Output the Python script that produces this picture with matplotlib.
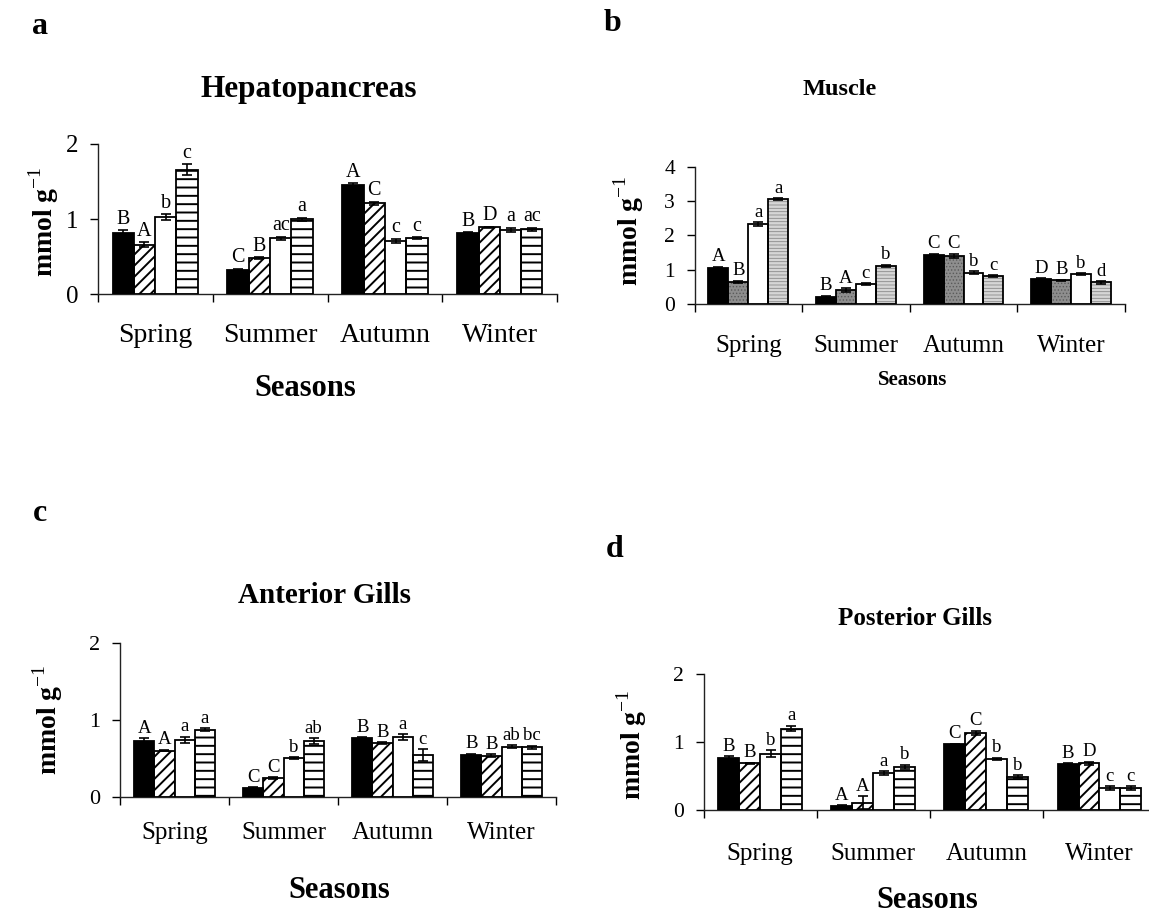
import matplotlib
matplotlib.use('Agg')
import matplotlib.pyplot as plt
import numpy as np

plt.rcParams['font.family'] = ['Liberation Serif', 'DejaVu Serif']
plt.rcParams['mathtext.fontset'] = 'custom'
plt.rcParams['mathtext.rm'] = 'Liberation Serif'
plt.rcParams['mathtext.bf'] = 'Liberation Serif:bold'
plt.rcParams['hatch.linewidth'] = 1.4

W, H = 1149, 915

seasons = ['Spring', 'Summer', 'Autumn', 'Winter']

# rows = seasons, columns = the four treatments
hep_mean = [[0.82, 0.66, 1.03, 1.66],
            [0.32, 0.48, 0.745, 1.00],
            [1.455, 1.21, 0.71, 0.75],
            [0.82, 0.89, 0.855, 0.865]]
hep_err = [[0.03, 0.03, 0.04, 0.07],
           [0.02, 0.01, 0.02, 0.02],
           [0.02, 0.02, 0.03, 0.01],
           [0.01, 0.01, 0.03, 0.02]]
hep_letters = [['B', 'A', 'b', 'c'],
               ['C', 'B', 'ac', 'a'],
               ['A', 'C', 'c', 'c'],
               ['B', 'D', 'a', 'ac']]

mus_mean = [[1.05, 0.64, 2.33, 3.05],
            [0.21, 0.40, 0.57, 1.11],
            [1.43, 1.41, 0.91, 0.82],
            [0.72, 0.69, 0.87, 0.63]]
mus_err = [[0.04, 0.04, 0.05, 0.03],
           [0.03, 0.06, 0.03, 0.04],
           [0.03, 0.06, 0.04, 0.02],
           [0.03, 0.02, 0.02, 0.04]]
mus_letters = [['A', 'B', 'a', 'a'],
               ['B', 'A', 'c', 'b'],
               ['C', 'C', 'b', 'c'],
               ['D', 'B', 'b', 'd']]

ant_mean = [[0.72, 0.60, 0.74, 0.87],
            [0.11, 0.24, 0.50, 0.72],
            [0.76, 0.70, 0.77, 0.54],
            [0.54, 0.53, 0.65, 0.64]]
ant_err = [[0.04, 0.01, 0.04, 0.02],
           [0.01, 0.01, 0.01, 0.04],
           [0.01, 0.01, 0.04, 0.08],
           [0.02, 0.02, 0.02, 0.02]]
ant_letters = [['A', 'A', 'a', 'a'],
               ['C', 'C', 'b', 'ab'],
               ['B', 'B', 'a', 'c'],
               ['B', 'B', 'ab', 'bc']]

post_mean = [[0.77, 0.69, 0.83, 1.20],
             [0.06, 0.11, 0.54, 0.64],
             [0.97, 1.14, 0.75, 0.49],
             [0.68, 0.69, 0.32, 0.32]]
post_err = [[0.02, 0.01, 0.05, 0.04],
            [0.01, 0.09, 0.03, 0.03],
            [0.01, 0.03, 0.02, 0.02],
            [0.01, 0.02, 0.03, 0.03]]
post_letters = [['B', 'B', 'b', 'a'],
                ['A', 'A', 'a', 'b'],
                ['C', 'C', 'b', 'b'],
                ['B', 'D', 'c', 'c']]

# bar fills: (facecolor, hatch, hatch colour)
STYLE_BW = [('black', None, 'black'),
            ('white', '///', 'black'),
            ('white', None, 'black'),
            ('white', '--', 'black')]
STYLE_GREY = [('black', None, 'black'),
              ('#8e8e8e', '.....', '#5a5a5a'),
              ('white', None, 'black'),
              ('#d6d6d6', '-----', '#8a8a8a')]

fig = plt.figure(figsize=(W / 100, H / 100), dpi=100)


def fx(x):
    return x / W


def fy(y):
    return 1 - y / H


def make_axes(x0, x1, ytop, y0):
    return fig.add_axes([fx(x0), fy(y0), fx(x1 - x0), (y0 - ytop) / H])


def draw_panel(ax, mean, err, letters, styles, ymax, yticks,
               ytick_fs, xtick_fs, xpad, let_fs=13.5):
    mean = np.array(mean)
    err = np.array(err)
    g = np.arange(len(seasons))
    w = 0.185
    for i in range(4):
        xs = g + (i - 1.5) * w
        fc, hatch, hc = styles[i]
        if hatch:
            hb = ax.bar(xs, mean[:, i], w, color=fc, hatch=hatch,
                        edgecolor=hc, linewidth=0, zorder=2)
            for p in hb:
                if hasattr(p, 'set_hatch_linewidth') and hc != 'black':
                    p.set_hatch_linewidth(0.6)
            ax.bar(xs, mean[:, i], w, facecolor='none', edgecolor='black',
                   linewidth=1.3, zorder=3)
        else:
            ax.bar(xs, mean[:, i], w, color=fc, edgecolor='black',
                   linewidth=1.3, zorder=3)
        ax.errorbar(xs, mean[:, i], yerr=err[:, i], fmt='none',
                    ecolor='black', elinewidth=1.2, capsize=3.5,
                    capthick=1.2, zorder=4)
        for j, x in enumerate(xs):
            ax.annotate(letters[j][i], (x, mean[j, i] + err[j, i]),
                        xytext=(0, 1), textcoords='offset points',
                        ha='center', va='bottom', fontsize=let_fs)

    ax.set_xlim(-0.5, 3.5)
    ax.set_ylim(0, ymax)
    ax.set_yticks(yticks)
    ax.set_yticklabels([str(t) for t in yticks], fontsize=ytick_fs)
    ax.set_xticks(np.arange(-0.5, 4, 1.0))
    ax.set_xticklabels([])
    ax.set_xticks(g, minor=True)
    ax.set_xticklabels(seasons, minor=True, fontsize=xtick_fs)
    ax.tick_params(axis='x', which='major', direction='out', length=6,
                   width=1)
    ax.tick_params(axis='x', which='minor', length=0, pad=xpad)
    ax.tick_params(axis='y', direction='out', length=6, width=1, pad=8)
    for s in ('top', 'right'):
        ax.spines[s].set_visible(False)
    for s in ('left', 'bottom'):
        ax.spines[s].set_linewidth(1)
        ax.spines[s].set_color('#222222')


ylab = r'mmol g$^{-1}$'

# a. Hepatopancreas
ax_a = make_axes(97.6, 557.4, 144.0, 294.3)
draw_panel(ax_a, hep_mean, hep_err, hep_letters, STYLE_BW, 2, [0, 1, 2],
           18, 20, 21, let_fs=14.5)
fig.text(fx(40), fy(33.5), 'a', fontsize=23, fontweight='bold',
         ha='center', va='baseline')
fig.text(fx(308.6), fy(96.7), 'Hepatopancreas', fontsize=22.5,
         fontweight='bold', ha='center', va='baseline')
fig.text(fx(44), fy(222), ylab, fontsize=20, fontweight='bold',
         rotation=90, ha='center', va='center')
fig.text(fx(305), fy(396), 'Seasons', fontsize=22, fontweight='bold',
         ha='center', va='baseline')

# b. Muscle
ax_b = make_axes(694.5, 1125, 166.7, 304.0)
draw_panel(ax_b, mus_mean, mus_err, mus_letters, STYLE_GREY, 4,
           [0, 1, 2, 3, 4], 15.5, 18, 22.5)
fig.text(fx(612), fy(31), 'b', fontsize=23, fontweight='bold',
         ha='center', va='baseline')
fig.text(fx(840), fy(95), 'Muscle', fontsize=17.5, fontweight='bold',
         ha='center', va='baseline')
fig.text(fx(629), fy(231), ylab, fontsize=20, fontweight='bold',
         rotation=90, ha='center', va='center')
fig.text(fx(913), fy(385), 'Seasons', fontsize=15, fontweight='bold',
         ha='center', va='baseline')

# c. Anterior Gills
ax_c = make_axes(120, 556, 642.7, 796.7)
draw_panel(ax_c, ant_mean, ant_err, ant_letters, STYLE_BW, 2, [0, 1, 2],
           16, 18, 18)
fig.text(fx(40), fy(521), 'c', fontsize=23, fontweight='bold',
         ha='center', va='baseline')
fig.text(fx(325), fy(603), 'Anterior Gills', fontsize=21,
         fontweight='bold', ha='center', va='baseline')
fig.text(fx(48), fy(720), ylab, fontsize=20, fontweight='bold',
         rotation=90, ha='center', va='center')
fig.text(fx(339), fy(898), 'Seasons', fontsize=22, fontweight='bold',
         ha='center', va='baseline')

# d. Posterior Gills
ax_d = make_axes(703.5, 1156, 674.3, 810.0)
draw_panel(ax_d, post_mean, post_err, post_letters, STYLE_BW, 2,
           [0, 1, 2], 15.5, 18, 24)
fig.text(fx(615), fy(557), 'd', fontsize=23, fontweight='bold',
         ha='center', va='baseline')
fig.text(fx(915), fy(625), 'Posterior Gills', fontsize=18,
         fontweight='bold', ha='center', va='baseline')
fig.text(fx(632), fy(745), ylab, fontsize=20, fontweight='bold',
         rotation=90, ha='center', va='center')
fig.text(fx(927), fy(908), 'Seasons', fontsize=22, fontweight='bold',
         ha='center', va='baseline')

fig.savefig('out.png', dpi=100, facecolor='white')
